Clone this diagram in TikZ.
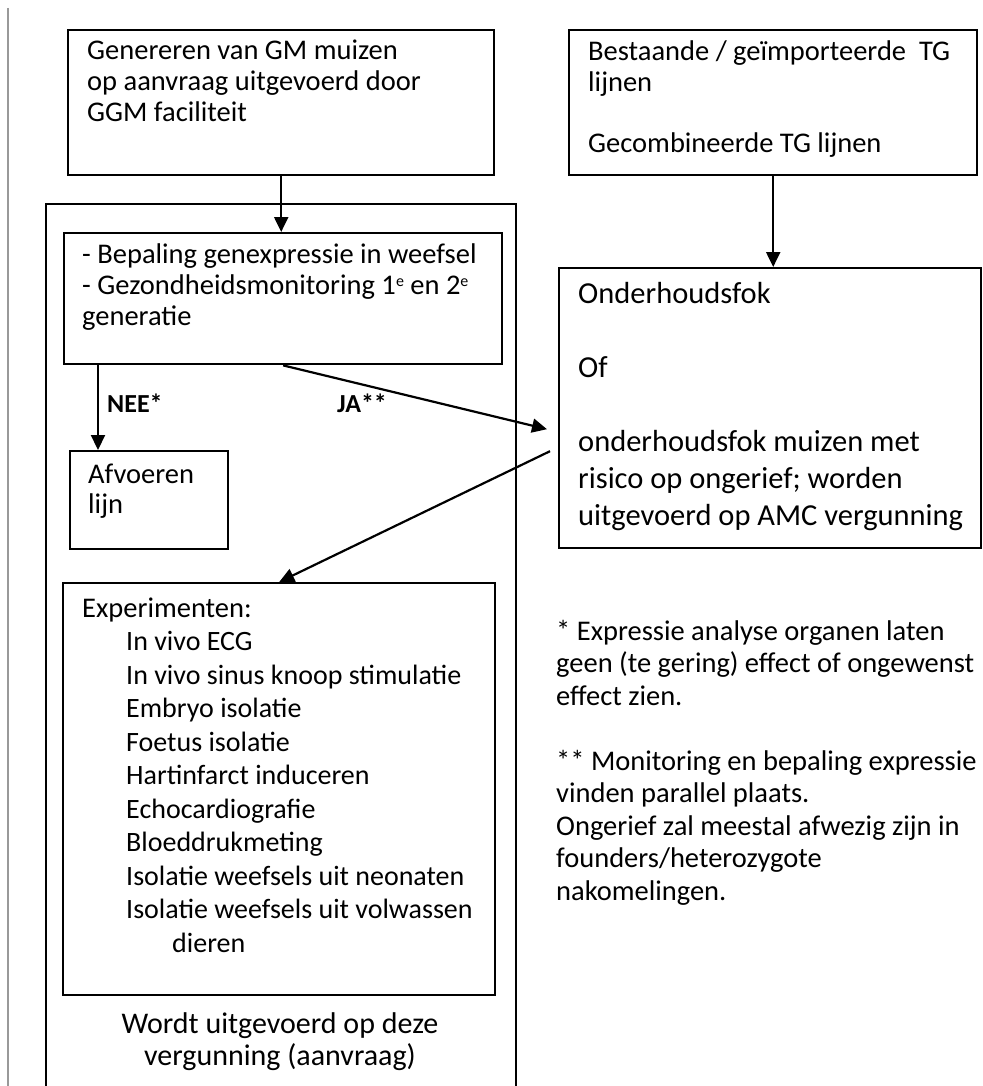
\documentclass[tikz,border=0pt]{standalone}
\usepackage{fontspec}
\setmainfont{Carlito}
\usetikzlibrary{arrows.meta}

\newcommand{\supe}{\raisebox{8pt}{\fontsize{16}{16}\selectfont e}}

\begin{document}
\begin{tikzpicture}[x = 1pt, y = -1pt,
  box/.style = {draw, line width = 2.4pt, anchor = north west, inner sep = 0pt},
  txt/.style = {anchor = base west, align = left, inner sep = 0pt, font = \fontsize{28.5}{31}\selectfont},
  arr/.style = {-{Triangle[length = 15pt, width = 14pt]}, line width = 2.2pt}]
\useasboundingbox (0, 0) rectangle (982, 1086);

\draw[gray!80, line width = 1.2pt] (8, 8) -- (8, 1086);

\node[box, minimum width = 426, minimum height = 145] at (67, 29) (gen) {};
\node[box, minimum width = 408, minimum height = 145] at (568, 29) (tg) {};
\node[box, minimum width = 470, minimum height = 900] at (45, 203) (lic) {};
\node[box, minimum width = 438, minimum height = 131] at (63, 232) (bep) {};
\node[box, minimum width = 158, minimum height = 98] at (69, 450) (afv) {};
\node[box, minimum width = 422, minimum height = 280] at (558, 267) (fok) {};
\node[box, minimum width = 432, minimum height = 412] at (62, 582) (exp) {};

% texts: placed at the baseline of their last line
\node[txt] at (87, 122) (gentxt) {Genereren van GM muizen\\op aanvraag uitgevoerd door\\GGM faciliteit};
\node[txt] at (588, 153) (tgtxt) {Bestaande / geïmporteerde\ \ TG\\lijnen\\[30pt]Gecombineerde TG lijnen};
\node[txt] at (82, 325) (beptxt) {- Bepaling genexpressie in weefsel\\- Gezondheidsmonitoring 1\supe{} en 2\supe\\generatie};
\node[txt, font = \fontsize{28.5}{30}\selectfont] at (88, 513) (afvtxt) {Afvoeren\\lijn};
\node[txt, font = \fontsize{30.5}{37}\selectfont] at (578, 525) (foktxt) {Onderhoudsfok\\[37pt]Of\\[37pt]onderhoudsfok muizen met\\risico op ongerief; worden\\uitgevoerd op AMC vergunning};

\node[txt, font = \fontsize{28.5}{33.5}\selectfont] at (82, 617) (exptxt) {Experimenten:};
\node[txt, font = \fontsize{28}{33.5}\selectfont] at (126, 952) (explist) {In vivo ECG\\In vivo sinus knoop stimulatie\\Embryo isolatie\\Foetus isolatie\\Hartinfarct induceren\\Echocardiografie\\Bloeddrukmeting\\Isolatie weefsels uit neonaten\\Isolatie weefsels uit volwassen\\\hspace*{46pt}dieren};

\node[txt, anchor = base, align = center, font = \fontsize{30}{32}\selectfont] at (280, 1065) (lictxt) {Wordt uitgevoerd op deze\\vergunning (aanvraag)};

\node[txt, font = \bfseries\fontsize{26}{30}\selectfont] at (107, 412) (nee) {NEE*};
\node[txt, font = \bfseries\fontsize{26}{30}\selectfont] at (337, 412) (ja) {JA**};

\node[txt, font = \fontsize{28.5}{32.5}\selectfont] at (556, 900) (noot) {* Expressie analyse organen laten\\geen (te gering) effect of ongewenst\\effect zien.\\[32.5pt]** Monitoring en bepaling expressie\\vinden parallel plaats.\\Ongerief zal meestal afwezig zijn in\\founders/heterozygote\\nakomelingen.};

\draw[arr] (gen.south) -- (gen.south |- bep.north);
\draw[arr] (tg.south) -- (tg.south |- fok.north);
\draw[arr] ([xshift = 35pt] bep.south west) -- ([xshift = 29pt] afv.north west);
\draw[arr] (bep.south) -- ([shift = {(-11, 21)}] fok.west);
\draw[arr] ([shift = {(-8, 43)}] fok.west) -- (exp.north);

\end{tikzpicture}
\end{document}
